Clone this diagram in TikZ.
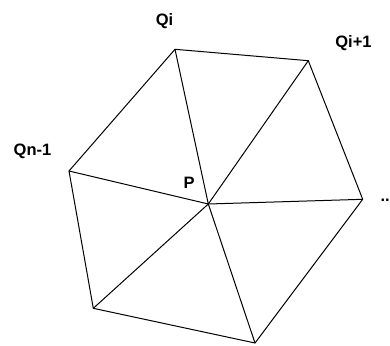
\documentclass[tikz,border=0pt]{standalone}
\usepackage{fontspec}
\setmainfont{Liberation Sans}
\usepackage{tikz}

\begin{document}
\begin{tikzpicture}[x=10pt,y=-10pt,line width=1pt,
  lbl/.style={font=\fontsize{16.5}{18}\selectfont\bfseries,inner sep=0pt}]
  \useasboundingbox (0,0) rectangle (39,34.5);

  % Polygon vertices and the inner point
  \coordinate (Qi)  at (17.5,4.93);
  \coordinate (Qii) at (30.83,6.07);
  \coordinate (Qr)  at (36.27,19.93);
  \coordinate (Qb)  at (25.5,34.3);
  \coordinate (Qbl) at (9.33,30.83);
  \coordinate (Qn)  at (6.9,17.1);
  \coordinate (P)   at (20.83,20.4);

  % Outline
  \draw (Qi)--(Qii)--(Qr)--(Qb)--(Qbl)--(Qn)--cycle;

  % Fan from P
  \foreach \v in {Qi,Qii,Qr,Qb,Qbl,Qn}
    \draw (P)--(\v);

  % Labels
  \node[lbl] (lQi)  at (16.45,2.1)  {Qi};
  \node[lbl] (lQii) at (35.35,4.3)  {Qi+1};
  \node[lbl] (lQn)  at (3.25,15.1)  {Qn-1};
  \node[lbl] (lP)   at (18.9,18.25) {P};
  \node[lbl,anchor=west] (ldots) at (38.0,20.0) {..};
\end{tikzpicture}
\end{document}
